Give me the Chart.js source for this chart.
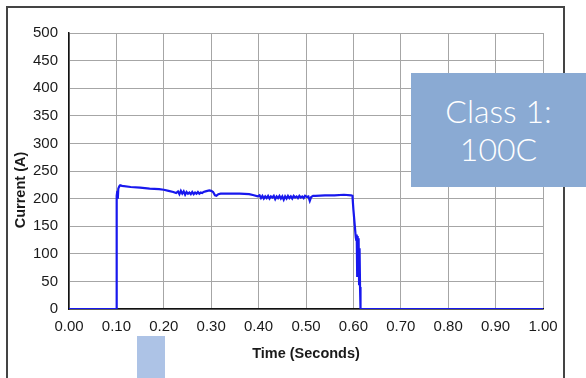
<!DOCTYPE html>
<html>
<head>
<meta charset="utf-8">
<script src="https://cdn.jsdelivr.net/npm/chart.js@4/dist/chart.umd.min.js"></script>
<style>
  html, body { margin: 0; padding: 0; background: #ffffff; }
  #wrap { position: relative; width: 586px; height: 378px; overflow: hidden; background: #fff; }
  #frame { position: absolute; left: 6px; top: 6px; width: 559px; height: 420px; box-sizing: border-box; border: 2px solid #444; }
  canvas { position: absolute; left: 0; top: 0; }
  #label { position: absolute; left: 411px; top: 73px; width: 175px; height: 114px; background: #8aaad3;
           color: #fff; font-family: Lato, "Open Sans", sans-serif; font-weight: 300; font-size: 32px; line-height: 38px;
           display: flex; align-items: center; justify-content: center; text-align: center; }
  #tab { position: absolute; left: 137px; top: 336px; width: 28px; height: 42px; background: #adc3e6; }
</style>
</head>
<body>
<div id="wrap">
  <div id="frame"></div>
  <canvas id="c" width="586" height="378"></canvas>
  <div id="label">Class 1:<br>100C</div>
  <div id="tab"></div>
</div>
<script>
// ---- data ----
const xTitle = "Time (Seconds)";
const yTitle = "Current (A)";
const seriesName = "Current";
const timeSeconds = [
  0.000, 0.100, 0.1002, 0.1006, 0.101, 0.102, 0.103, 0.104, 0.106, 0.108, 0.112,
  0.130, 0.150, 0.170, 0.190, 0.200, 0.210, 0.220, 0.226,
  0.230, 0.233, 0.236, 0.239, 0.242, 0.245, 0.248, 0.251, 0.254, 0.257, 0.260,
  0.263, 0.266, 0.269, 0.272, 0.275, 0.278, 0.281, 0.284, 0.288, 0.292, 0.296,
  0.300, 0.304, 0.308, 0.311, 0.315, 0.320, 0.340, 0.360, 0.380, 0.390, 0.398,
  0.402, 0.405, 0.408, 0.411, 0.414, 0.417, 0.420, 0.423, 0.426, 0.429, 0.432,
  0.435, 0.438, 0.441, 0.444, 0.447, 0.450, 0.453, 0.456, 0.459, 0.462, 0.465,
  0.468, 0.471, 0.474, 0.477, 0.480, 0.483, 0.486, 0.489, 0.492, 0.495, 0.498,
  0.502, 0.505, 0.508, 0.511, 0.515, 0.520, 0.540, 0.560, 0.580, 0.595, 0.598,
  0.600, 0.603, 0.605, 0.606, 0.607, 0.608, 0.609, 0.610, 0.611, 0.612, 0.613,
  0.614, 0.615, 1.000
];
const currentAmps = [
  0, 0, 88, 150, 205, 214, 200, 218, 222, 224, 223,
  221, 220, 218, 217, 216, 214, 212, 210,
  213, 208, 214, 209, 213, 207, 212, 209, 211, 208, 212,
  208, 211, 209, 212, 209, 211, 210, 212, 213, 214, 215,
  214, 212, 206, 205, 208, 209, 209, 209, 208, 206, 204,
  206, 201, 205, 200, 204, 201, 205, 200, 204, 202, 205,
  199, 204, 201, 205, 200, 204, 198, 204, 200, 205, 201,
  204, 200, 205, 202, 204, 201, 205, 202, 204, 201, 205,
  203, 204, 196, 203, 205, 205, 206, 206, 207, 206, 205,
  180, 150, 130, 125, 135, 60, 132, 70, 128, 45, 110,
  40, 0, 0
];
const xTicks = [0.0, 0.1, 0.2, 0.3, 0.4, 0.5, 0.6, 0.7, 0.8, 0.9, 1.0];
const yTicks = [0, 50, 100, 150, 200, 250, 300, 350, 400, 450, 500];

const points = timeSeconds.map((t, i) => ({ x: t, y: currentAmps[i] }));

const yTitlePlugin = {
  id: 'yTitle',
  afterDraw(chart) {
    const ctx = chart.ctx;
    ctx.save();
    ctx.translate(21, 190);
    ctx.rotate(-Math.PI / 2);
    ctx.font = 'bold 14.5px "Liberation Sans", Arial, sans-serif';
    ctx.fillStyle = '#1a1a1a';
    ctx.textAlign = 'center';
    ctx.textBaseline = 'middle';
    ctx.fillText(yTitle, 0, 0);
    ctx.restore();
  }
};

new Chart(document.getElementById('c'), {
  type: 'line',
  data: {
    datasets: [{
      label: seriesName,
      data: points,
      borderColor: '#1818ee',
      borderWidth: 2.2,
      pointRadius: 0,
      tension: 0,
      fill: false
    }]
  },
  options: {
    responsive: false,
    animation: false,
    events: [],
    layout: { padding: { left: 0, top: 33, right: 43, bottom: 0 } },
    plugins: { legend: { display: false }, tooltip: { enabled: false } },
    scales: {
      x: {
        type: 'linear', min: 0, max: 1,
        afterBuildTicks(s) { s.ticks = xTicks.map(v => ({ value: v })); },
        afterFit(s) { s.height = 69; },
        ticks: {
          callback: v => Number(v).toFixed(2),
          font: { family: '"Liberation Sans", Arial, sans-serif', size: 15 },
          color: '#1a1a1a', padding: 9, maxRotation: 0, autoSkip: false
        },
        grid: { color: '#a6a6a6', lineWidth: 1, drawTicks: false },
        border: { color: '#111', width: 1.5 },
        title: {
          display: true, text: xTitle, color: '#1a1a1a',
          font: { family: '"Liberation Sans", Arial, sans-serif', size: 14.5, weight: 'bold' },
          padding: { top: 0, bottom: 15 }
        }
      },
      y: {
        min: 0, max: 500,
        afterBuildTicks(s) { s.ticks = yTicks.map(v => ({ value: v })); },
        afterFit(s) { s.width = 69; },
        ticks: {
          font: { family: '"Liberation Sans", Arial, sans-serif', size: 15 },
          color: '#1a1a1a', padding: 11
        },
        grid: { color: '#a6a6a6', lineWidth: 1, drawTicks: false },
        border: { color: '#111', width: 1.5 }
      }
    }
  },
  plugins: [yTitlePlugin]
});
</script>
</body>
</html>
